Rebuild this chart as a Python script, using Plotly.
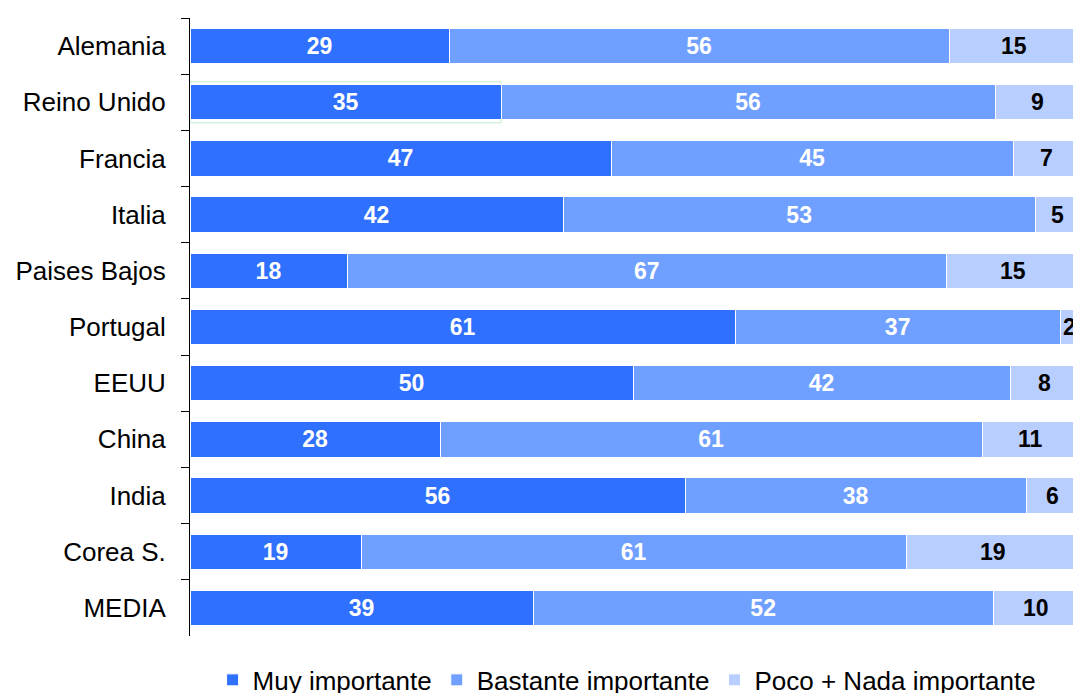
import plotly.graph_objects as go

categories = ["Alemania", "Reino Unido", "Francia", "Italia", "Paises Bajos", "Portugal",
              "EEUU", "China", "India", "Corea S.", "MEDIA"]
# shares (%); labels show them rounded
muy = [29.13, 34.98, 47.36, 41.96, 17.66, 61.30, 49.83, 28.12, 55.68, 19.24, 38.58]
bastante = [56.25, 55.57, 45.22, 53.09, 67.40, 36.56, 42.40, 60.97, 38.36, 61.30, 51.75]
poco = [14.62, 9.45, 7.42, 4.95, 14.94, 2.14, 7.77, 10.91, 5.96, 19.46, 9.67]
series_names = ["Muy importante", "Bastante importante", "Poco + Nada importante"]
colors = ["#3070FF", "#70A0FF", "#B8CEFF"]
text_colors = ["white", "white", "black"]

FONT = "Liberation Sans"
fig = go.Figure()
for i, (name, vals, col, tcol) in enumerate(zip(series_names, [muy, bastante, poco], colors, text_colors)):
    fig.add_trace(go.Bar(
        y=categories, x=vals, name=name, orientation="h",
        marker=dict(color=col, line=dict(color="white", width=1)),
        texttemplate="%{x:.0f}" if i < 2 else None,
        textposition="inside" if i < 2 else "none", insidetextanchor="middle",
        constraintext="none",
        textfont=dict(family=FONT, size=23, color=tcol, weight="bold"),
        hoverinfo="skip",
    ))

# labels of the last series (its bars run past the right edge)
for cat, a, b, c in zip(categories, muy, bastante, poco):
    fig.add_annotation(x=a + b + c / 2, y=cat, xref="x", yref="y", text=f"{c:.0f}",
                       showarrow=False, xanchor="center", yanchor="middle",
                       font=dict(family=FONT, size=23, color=text_colors[2], weight="bold"))

# faint selection outline around first segment of Reino Unido
idx = categories.index("Reino Unido")
fig.add_shape(type="rect", xref="x", yref="y", x0=0, x1=muy[idx],
              y0=idx - 0.365, y1=idx + 0.365,
              line=dict(color="#C4EBCD", width=1), layer="below")

fig.update_layout(
    barmode="stack", bargap=0.37,
    width=1073, height=693,
    margin=dict(l=190, r=0, t=18, b=57),
    plot_bgcolor="white", paper_bgcolor="white",
    font=dict(family=FONT, size=26, color="black"),
    showlegend=True,
    legend=dict(orientation="h", x=0.495, xanchor="center", xref="paper",
                y=0.0188, yanchor="middle", yref="container",
                font=dict(family=FONT, size=26), traceorder="normal"),
)
fig.update_xaxes(range=[0, 99.3], showgrid=False, zeroline=False, showticklabels=False,
                 showline=False)
fig.update_yaxes(autorange="reversed", showline=True, linecolor="black", linewidth=1,
                 ticks="outside", tickson="boundaries", ticklen=8, tickcolor="black",
                 ticklabelstandoff=18, showgrid=False)

fig.write_html("out.html", config={"displayModeBar": False},
               post_script="document.body.style.margin='0';document.body.style.overflow='hidden';")
